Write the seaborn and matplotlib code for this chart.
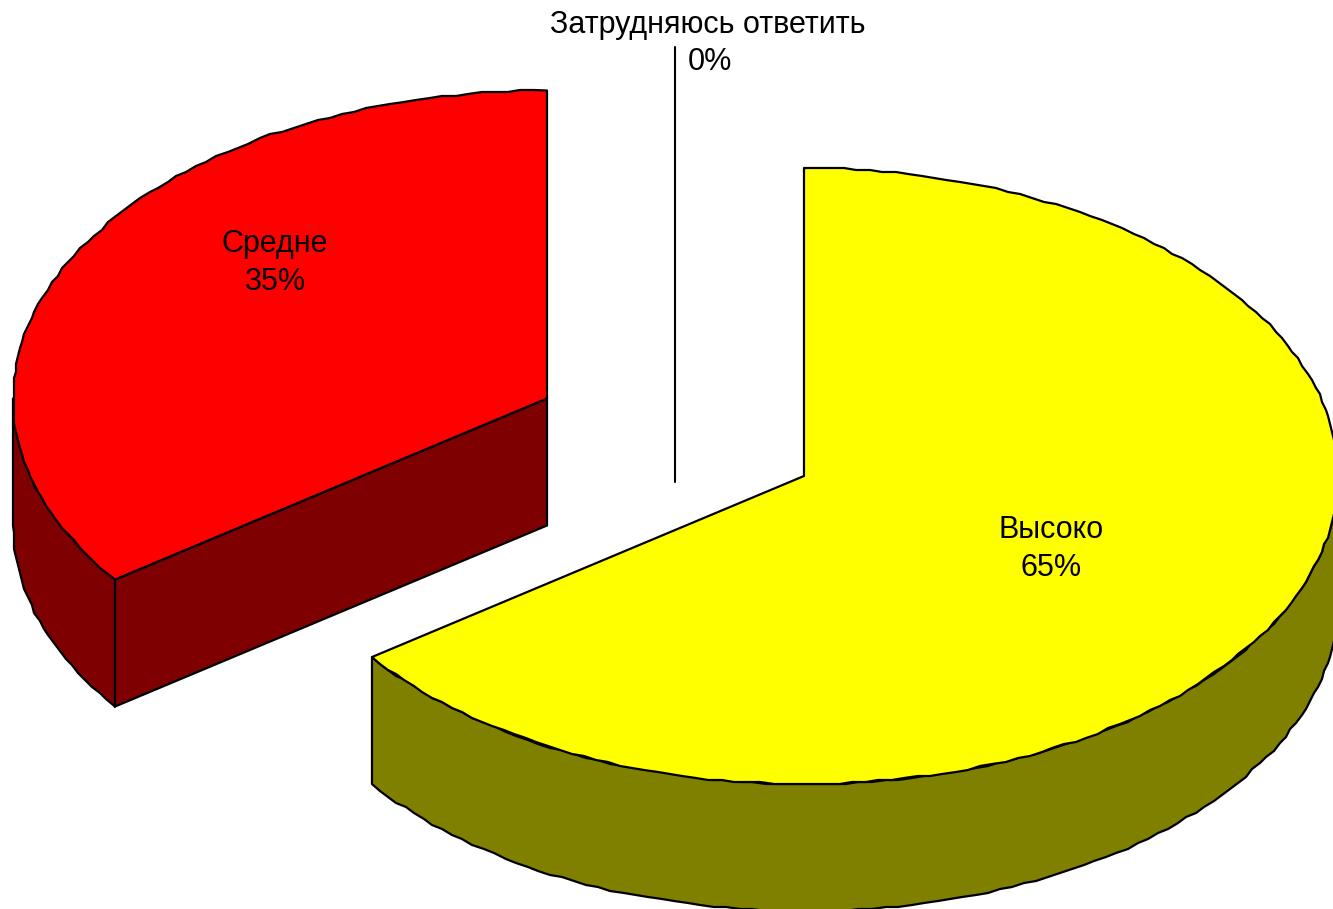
import numpy as np
import matplotlib
matplotlib.use("Agg")
import matplotlib.pyplot as plt
import seaborn as sns

# Data
categories = ["Высоко", "Средне", "Затрудняюсь ответить"]
values = [65, 35, 0]
top_colors = ["#FFFF00", "#FF0000", "#9999FF"]
side_colors = ["#808000", "#7F0000", "#4C4C7F"]

sns.set_theme(style="white")
plt.rcParams["font.family"] = ["Liberation Sans", "DejaVu Sans"]

W, H = 1333, 909
fig = plt.figure(figsize=(W / 100, H / 100), dpi=100, facecolor="white")
ax = fig.add_axes([0, 0, 1, 1])
ax.set_xlim(0, W)
ax.set_ylim(H, 0)
ax.axis("off")

RX, RY, DEPTH = 534, 308, 127
centers = [(804, 476), (547, 398.5), (675, 482)]
GRID = 2.0  # stair-stepped outline like the source rendering


def pt(cx, cy, deg, jag=True):
    a = np.radians(deg)
    x = cx + RX * np.sin(a)
    y = cy - RY * np.cos(a)
    if jag:
        x = np.round(x / GRID) * GRID
        y = np.round(y / GRID) * GRID
    return x, y


def arc(cx, cy, a0, a1):
    n = max(2, int(abs(a1 - a0) / 1.4))
    angs = np.linspace(a0, a1, n)
    xs, ys = pt(cx, cy, angs)
    xs[0], ys[0] = pt(cx, cy, a0, jag=False)
    xs[-1], ys[-1] = pt(cx, cy, a1, jag=False)
    return np.column_stack([xs, ys])


total = sum(values)
start = 0.0
lw = 1.6
for name, val, c_top, c_side, (cx, cy) in zip(categories, values, top_colors, side_colors, centers):
    sweep = 360.0 * val / total
    end = start + sweep
    if val > 0:
        # outer wall: the part of the rim facing the viewer (90..270 deg)
        a0, a1 = max(start, 90), min(end, 270)
        if a1 > a0:
            rim = arc(cx, cy, a0, a1)
            wall = np.vstack([rim, (rim + [0, DEPTH])[::-1]])
            ax.fill(wall[:, 0], wall[:, 1], fc=c_side, ec="black", lw=lw, zorder=2, joinstyle="round")
        # cut face: only the slice's leading edge looks toward the viewer here
        if 180 < start < 360:
            ex, ey = pt(cx, cy, start, jag=False)
            face = np.array([[cx, cy], [ex, ey], [ex, ey + DEPTH], [cx, cy + DEPTH]])
            ax.fill(face[:, 0], face[:, 1], fc=c_side, ec="black", lw=lw, zorder=2)
        # top surface
        top = np.vstack([[cx, cy], arc(cx, cy, start, end)])
        ax.fill(top[:, 0], top[:, 1], fc=c_top, ec="black", lw=lw, zorder=3, joinstyle="round")
    start = end

ax.plot([675, 675], [47, 482], color="black", lw=1.5, zorder=4)

fs = 22
ax.text(1051, 549, f"{categories[0]}\n{values[0]}%", ha="center", va="center", fontsize=fs, linespacing=1.33, color="black", zorder=5)
ax.text(275, 263, f"{categories[1]}\n{values[1]}%", ha="center", va="center", fontsize=fs, linespacing=1.33, color="black", zorder=5)
ax.text(708, 25, categories[2], ha="center", va="center", fontsize=fs, color="black", zorder=5)
ax.text(710, 62, f"{values[2]}%", ha="center", va="center", fontsize=fs, color="black", zorder=5)

fig.savefig("out.png", dpi=100, facecolor="white")
